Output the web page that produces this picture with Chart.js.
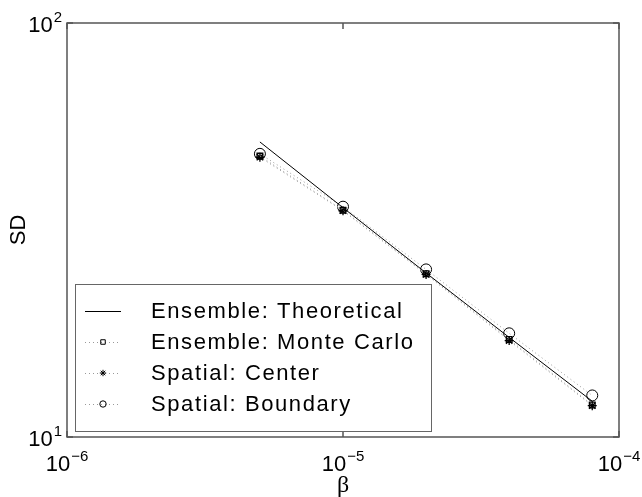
<!DOCTYPE html>
<html>
<head>
<meta charset="utf-8">
<script src="https://cdn.jsdelivr.net/npm/chart.js@4/dist/chart.umd.min.js"></script>
<style>
html, body { margin: 0; padding: 0; background: #fff; }
#wrap { width: 642px; height: 497px; }
</style>
</head>
<body>
<div id="wrap"><canvas id="sdChart" width="642" height="497"></canvas></div>
<script>
// ------------------------------------------------------
// Data
// ------------------------------------------------------

const betaValues = [5e-6, 1e-5, 2e-5, 4e-5, 8e-5];

const sdTheoretical = [51.6, 35.8, 24.9, 17.4, 12.2];
const sdMonteCarlo = [47.7, 35.3, 24.8, 17.2, 11.95];
const sdCenter = [47.4, 35.2, 24.7, 17.1, 11.9];
const sdBoundary = [48.3, 36.0, 25.4, 17.8, 12.6];

const seriesLabels = [
    "Ensemble: Theoretical",
    "Ensemble: Monte Carlo",
    "Spatial: Center",
    "Spatial: Boundary"
];

const xTickExponents = [-6, -5, -4];
const yTickExponents = [1, 2];

const xTitle = "β";
const yTitle = "SD";

// ------------------------------------------------------
// Helpers
// ------------------------------------------------------

function toPoints(ys) {
    return betaValues.map((b, i) => ({ x: b, y: ys[i] }));
}

const FONT = "Liberation Sans, Arial, Helvetica, sans-serif";

function drawPower(ctx, exp, x, y, align) {
    // "10" with a raised exponent
    ctx.font = "22px " + FONT;
    const base = "10";
    const wBase = ctx.measureText(base).width;
    ctx.font = "15px " + FONT;
    const sup = String(exp).replace("-", "\u2212");
    const wSup = ctx.measureText(sup).width;
    const total = wBase + wSup + 1;
    let left = x;
    if (align === "center") left = x - total / 2;
    if (align === "right") left = x - total;
    ctx.textAlign = "left";
    ctx.textBaseline = "alphabetic";
    ctx.font = "22px " + FONT;
    ctx.fillText(base, left, y);
    ctx.font = "15px " + FONT;
    ctx.fillText(sup, left + wBase + 1, y - 10);
}

// ------------------------------------------------------
// Frame, ticks, labels and legend (MATLAB style)
// ------------------------------------------------------

const matlabAxes = {
    id: "matlabAxes",
    afterDraw(chart) {
        const ctx = chart.ctx;
        const area = chart.chartArea;
        const xs = chart.scales.x;
        const ys = chart.scales.y;

        ctx.save();

        // box
        ctx.strokeStyle = "#555";
        ctx.lineWidth = 1.5;
        ctx.strokeRect(area.left, area.top, area.right - area.left, area.bottom - area.top);

        // major ticks, inward
        ctx.beginPath();
        xTickExponents.forEach(e => {
            const px = xs.getPixelForValue(Math.pow(10, e));
            ctx.moveTo(px, area.bottom);
            ctx.lineTo(px, area.bottom - 6);
            ctx.moveTo(px, area.top);
            ctx.lineTo(px, area.top + 6);
        });
        yTickExponents.forEach(e => {
            const py = ys.getPixelForValue(Math.pow(10, e));
            ctx.moveTo(area.left, py);
            ctx.lineTo(area.left + 6, py);
            ctx.moveTo(area.right, py);
            ctx.lineTo(area.right - 6, py);
        });
        ctx.stroke();

        // tick labels
        ctx.fillStyle = "#000";
        xTickExponents.forEach(e => {
            const px = xs.getPixelForValue(Math.pow(10, e));
            drawPower(ctx, e, px, area.bottom + 34, "center");
        });
        yTickExponents.forEach(e => {
            const py = ys.getPixelForValue(Math.pow(10, e));
            drawPower(ctx, e, area.left - 5, py + 9, "right");
        });

        // axis titles
        ctx.textAlign = "center";
        ctx.textBaseline = "middle";
        ctx.font = "24px Liberation Serif, Times New Roman, serif";
        ctx.fillText(xTitle, xs.getPixelForValue(1e-5), area.bottom + 49);

        ctx.save();
        ctx.translate(19, (area.top + area.bottom) / 2);
        ctx.rotate(-Math.PI / 2);
        ctx.font = "22px " + FONT;
        ctx.fillText(yTitle, 0, 0);
        ctx.restore();

        // legend
        const box = { left: 75, top: 284, right: 431, bottom: 431 };
        ctx.fillStyle = "#fff";
        ctx.fillRect(box.left, box.top, box.right - box.left, box.bottom - box.top);
        ctx.strokeStyle = "#666";
        ctx.lineWidth = 1;
        ctx.strokeRect(box.left + 0.5, box.top + 0.5, box.right - box.left, box.bottom - box.top);

        const rowY = [311, 342, 373, 404];

        chart.data.datasets.forEach((ds, i) => {
            const y = rowY[i];

            ctx.save();
            ctx.strokeStyle = ds.borderColor;
            ctx.lineWidth = 1;
            ctx.setLineDash(ds.borderDash || []);
            ctx.beginPath();
            ctx.moveTo(85, y + 0.5);
            ctx.lineTo(121, y + 0.5);
            ctx.stroke();
            ctx.restore();

            if (ds.pointRadius > 0) {
                ctx.save();
                ctx.strokeStyle = "#000";
                ctx.fillStyle = "rgba(0,0,0,0)";
                Chart.helpers.drawPoint(ctx, {
                    pointStyle: ds.pointStyle,
                    radius: 3.2,
                    borderWidth: 1,
                    rotation: 0
                }, 103, y);
                ctx.restore();
            }

            ctx.fillStyle = "#000";
            ctx.textAlign = "left";
            ctx.textBaseline = "middle";
            ctx.font = "22px " + FONT;
            ctx.letterSpacing = "1.6px";
            ctx.fillText(ds.label, 151, y + 1);
            ctx.letterSpacing = "0px";
        });

        ctx.restore();
    }
};

// ------------------------------------------------------
// Chart
// ------------------------------------------------------

new Chart(document.getElementById("sdChart"), {

    type: "line",

    data: {
        datasets: [
            {
                label: seriesLabels[0],
                data: toPoints(sdTheoretical),
                borderColor: "#000",
                borderWidth: 1,
                pointRadius: 0
            },
            {
                label: seriesLabels[1],
                data: toPoints(sdMonteCarlo),
                borderColor: "#999",
                borderWidth: 1,
                borderDash: [1, 3],
                pointStyle: "rect",
                pointRadius: 4,
                pointBorderColor: "#000",
                pointBackgroundColor: "rgba(0,0,0,0)",
                pointBorderWidth: 1.3
            },
            {
                label: seriesLabels[2],
                data: toPoints(sdCenter),
                borderColor: "#999",
                borderWidth: 1,
                borderDash: [1, 3],
                pointStyle: "star",
                pointRadius: 4.5,
                pointBorderColor: "#000",
                pointBackgroundColor: "rgba(0,0,0,0)",
                pointBorderWidth: 1.3
            },
            {
                label: seriesLabels[3],
                data: toPoints(sdBoundary),
                borderColor: "#999",
                borderWidth: 1,
                borderDash: [1, 3],
                pointStyle: "circle",
                pointRadius: 5.5,
                pointBorderColor: "#000",
                pointBackgroundColor: "rgba(0,0,0,0)",
                pointBorderWidth: 1
            }
        ]
    },

    options: {
        responsive: false,
        animation: false,
        devicePixelRatio: 1,
        layout: {
            padding: { left: 67, top: 23, right: 23, bottom: 60 }
        },
        plugins: {
            legend: { display: false },
            tooltip: { enabled: false }
        },
        scales: {
            x: {
                type: "logarithmic",
                min: 1e-6,
                max: 1e-4,
                display: false
            },
            y: {
                type: "logarithmic",
                min: 10,
                max: 100,
                display: false
            }
        }
    },

    plugins: [matlabAxes]

});
</script>
</body>
</html>
